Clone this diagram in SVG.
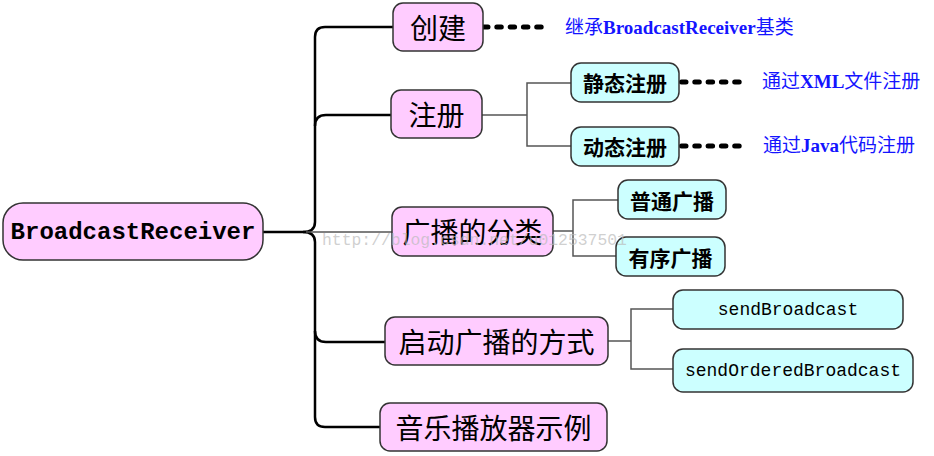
<svg xmlns="http://www.w3.org/2000/svg" width="934" height="456" viewBox="0 0 934 456">
<style>
.pink{fill:#ffccff;stroke:#333;stroke-width:1.5}
.cyan{fill:#ccffff;stroke:#333;stroke-width:1.5}
.main{font-family:"Noto Sans CJK SC",sans-serif;font-size:28px;fill:#000;text-anchor:middle;dominant-baseline:central}
.sub{font-family:"Noto Sans CJK SC",sans-serif;font-size:21px;font-weight:bold;fill:#000;text-anchor:middle;dominant-baseline:central}
.mono{font-family:"Liberation Mono",monospace;font-size:18px;fill:#000;text-anchor:middle;dominant-baseline:central}
.root{font-family:"Liberation Mono",monospace;font-size:24px;font-weight:bold;fill:#000;text-anchor:middle;dominant-baseline:central}
.note{font-family:"Liberation Serif","Noto Sans CJK SC",serif;font-size:19px;fill:#1414ff;dominant-baseline:central}
.note .b{font-weight:bold}
.thick{fill:none;stroke:#000;stroke-width:2.5}
.thin{fill:none;stroke:#555;stroke-width:1.5}
.dot{fill:none;stroke:#000;stroke-width:5;stroke-dasharray:4.5 8.8;stroke-linecap:round}
</style>
<g id="connectors">
<path class="thick" d="M263,232 L303,232"/>
<path class="thick" d="M393,27 L325,27 Q315,27 315,37 L315,222 Q315,232 303,232"/>
<path class="thick" d="M303,232 Q315,232 315,242 L315,417 Q315,427 325,427 L380,427"/>
<path class="thick" d="M315,126 Q315,115 326,115 L391,115"/>
<path class="thick" d="M315,331 Q315,342 326,342 L385,342"/>
<path class="thin" d="M306,232 L392,232"/>
<path class="thin" d="M482,115 L527,115 M571,83 L527,83 L527,146 L571,146"/>
<path class="thin" d="M553,231 L573,231 M618,200 L573,200 L573,256 L616,256"/>
<path class="thin" d="M608,341 L631,341 M673,309 L631,309 L631,369 L673,369"/>
<path class="dot" d="M483.5,27 L546.5,27"/>
<path class="dot" d="M681.5,82 L744.5,82"/>
<path class="dot" d="M681.5,146 L744.5,146"/>
</g>
<g id="root">
<rect class="pink" x="3" y="203" width="260" height="57" rx="20"/>
<text class="root" x="133" y="232">BroadcastReceiver</text>
</g>
<g id="chuangjian">
<rect class="pink" x="393" y="3" width="90" height="48" rx="10"/>
<text class="main" x="438" y="27">创建</text>
</g>
<g id="zhuce">
<rect class="pink" x="391" y="90" width="91" height="48" rx="10"/>
<text class="main" x="436.5" y="114">注册</text>
</g>
<g id="fenlei">
<rect class="pink" x="392" y="207" width="161" height="49" rx="10"/>
<text class="main" x="472.5" y="231">广播的分类</text>
</g>
<g id="qidong">
<rect class="pink" x="385" y="317" width="223" height="48" rx="10"/>
<text class="main" x="496.5" y="341">启动广播的方式</text>
</g>
<g id="yinyue">
<rect class="pink" x="380" y="403" width="227" height="48" rx="10"/>
<text class="main" x="493.5" y="427">音乐播放器示例</text>
</g>
<g id="jingtai">
<rect class="cyan" x="571" y="63" width="108" height="39" rx="10"/>
<text class="sub" x="625" y="82">静态注册</text>
</g>
<g id="dongtai">
<rect class="cyan" x="571" y="127" width="108" height="39" rx="10"/>
<text class="sub" x="625" y="146">动态注册</text>
</g>
<g id="putong">
<rect class="cyan" x="618" y="180" width="108" height="39" rx="10"/>
<text class="sub" x="672" y="199.5">普通广播</text>
</g>
<g id="youxu">
<rect class="cyan" x="616" y="237" width="109" height="39" rx="10"/>
<text class="sub" x="670.5" y="256.5">有序广播</text>
</g>
<g id="sendBroadcast">
<rect class="cyan" x="673" y="290" width="230" height="39" rx="10"/>
<text class="mono" x="788" y="309.5">sendBroadcast</text>
</g>
<g id="sendOrderedBroadcast">
<rect class="cyan" x="673" y="349" width="240" height="43" rx="10"/>
<text class="mono" x="793" y="370.5">sendOrderedBroadcast</text>
</g>
<g id="notes">
<text class="note" x="565" y="27">继承<tspan class="b">BroadcastReceiver</tspan>基类</text>
<text class="note" x="762" y="81">通过<tspan class="b">XML</tspan>文件注册</text>
<text class="note" x="763" y="145">通过<tspan class="b">Java</tspan>代码注册</text>
</g>
<text x="322" y="240" style="font-family:'Liberation Mono',monospace;font-size:16.4px;fill:#bbb;fill-opacity:0.7;dominant-baseline:central">http://blog.csdn.net/u012537501</text>
</svg>
